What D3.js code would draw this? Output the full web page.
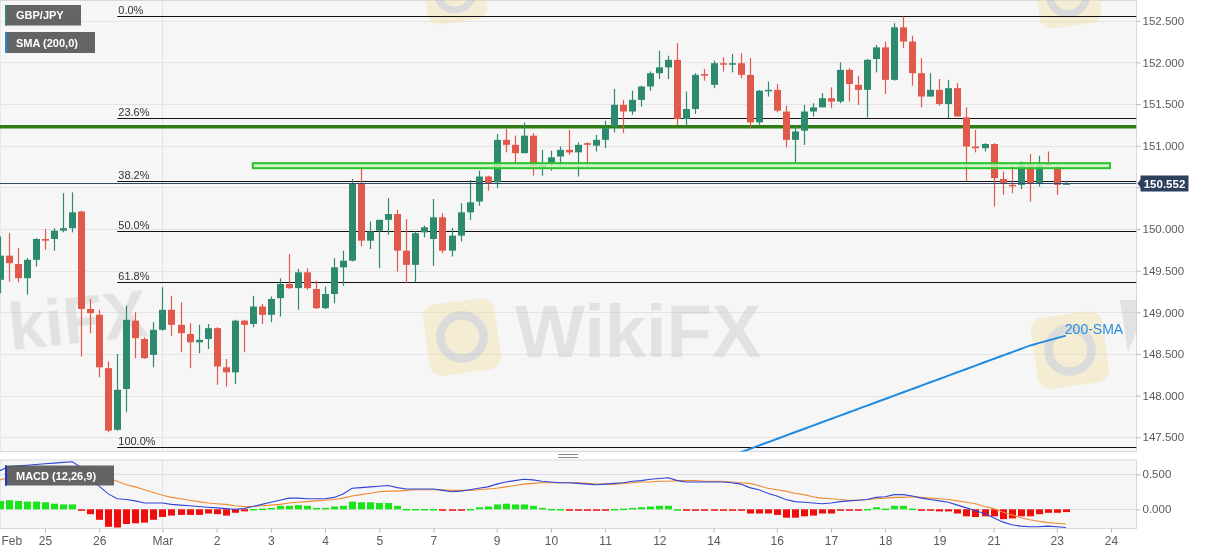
<!DOCTYPE html>
<html><head><meta charset="utf-8">
<script src="https://cdn.jsdelivr.net/npm/d3@7"></script>
<style>
body{margin:0;background:#fff;}
svg{display:block;font-family:"Liberation Sans",Arial,sans-serif;}
</style>
</head><body>
<svg id="c" width="1207" height="555"></svg>
<script>
// ---------- DATA (4H candles, index 0 = leftmost) ----------
const opens = [149.39,149.68,149.58,149.41,149.63,149.88,149.88,149.98,150.01,150.21,149.04,148.97,148.33,147.59,148.08,148.90,148.68,148.49,148.79,149.03,148.85,148.74,148.64,148.68,148.81,148.34,148.28,148.90,148.86,149.07,148.97,149.17,149.34,149.29,149.48,149.28,149.05,149.22,149.54,149.62,150.54,149.86,149.98,150.11,150.18,149.74,149.57,149.96,149.88,150.14,149.74,149.92,150.20,150.33,150.63,150.56,151.07,151.01,150.91,151.12,150.74,150.78,150.87,150.95,150.92,151.03,151.00,151.07,151.23,151.49,151.41,151.55,151.71,151.87,151.94,152.03,151.32,151.44,151.86,151.73,151.99,151.98,151.99,151.85,151.28,151.66,151.67,151.41,151.07,151.18,151.41,151.46,151.57,151.53,151.91,151.73,151.67,152.04,152.18,151.79,152.42,152.25,151.87,151.59,151.67,151.50,151.69,151.34,150.99,150.97,151.02,150.60,150.53,150.53,150.77,150.55,150.79,150.72,150.53];
const highs = [149.91,149.95,149.77,149.65,149.89,150.00,150.01,150.43,150.44,150.22,149.16,149.03,148.41,148.50,149.08,149.00,148.70,148.88,149.30,149.20,149.12,148.87,148.85,148.86,148.82,148.44,148.91,148.91,149.20,149.10,149.19,149.41,149.70,149.52,149.53,149.38,149.31,149.65,149.74,150.60,150.73,150.09,150.11,150.37,150.23,150.12,149.97,150.04,150.36,150.19,150.01,150.31,150.59,150.70,150.64,151.14,151.20,151.12,151.28,151.15,150.95,150.94,150.99,151.19,151.04,151.04,151.13,151.30,151.68,151.55,151.66,151.72,151.89,152.14,152.08,152.23,151.65,151.87,151.92,152.02,152.06,152.10,152.11,152.05,151.67,151.77,151.74,151.48,151.25,151.49,151.51,151.63,151.70,152.00,151.93,151.84,152.04,152.21,152.25,152.47,152.55,152.32,152.05,151.87,151.80,151.79,151.75,151.46,151.19,151.03,151.03,150.69,150.77,150.81,150.90,150.88,150.93,150.77,150.58];
const lows = [149.23,149.37,149.36,149.21,149.55,149.75,149.74,149.96,149.96,148.47,148.75,148.22,147.56,147.58,147.80,148.45,148.44,148.34,148.78,148.72,148.52,148.33,148.51,148.56,148.13,148.11,148.14,148.52,148.82,148.86,148.88,148.95,149.28,149.03,149.27,149.04,149.04,149.11,149.32,149.61,149.79,149.76,149.53,149.93,149.49,149.35,149.36,149.90,149.56,149.71,149.67,149.85,150.11,150.28,150.46,150.49,150.92,150.79,150.91,150.64,150.64,150.70,150.75,150.89,150.63,150.75,150.93,150.97,151.16,151.15,151.37,151.47,151.66,151.80,151.80,151.25,151.24,151.38,151.78,151.69,151.89,151.88,151.81,151.21,151.25,151.59,151.40,150.98,150.78,151.01,151.35,151.46,151.45,151.51,151.53,151.49,151.34,151.88,151.62,151.78,152.17,151.72,151.46,151.59,151.48,151.33,151.35,150.57,150.92,150.93,150.27,150.41,150.43,150.48,150.33,150.51,150.76,150.41,150.53];
const closes = [149.68,149.59,149.41,149.63,149.88,149.86,149.98,150.01,150.20,149.04,148.99,148.34,147.58,148.07,148.91,148.69,148.45,148.79,149.03,148.85,148.75,148.64,148.67,148.81,148.35,148.28,148.90,148.85,149.07,148.97,149.16,149.34,149.29,149.48,149.29,149.05,149.22,149.54,149.62,150.54,149.86,149.97,150.11,150.18,149.74,149.57,149.95,150.02,150.14,149.74,149.92,150.20,150.32,150.63,150.55,151.07,151.01,150.91,151.12,150.75,150.77,150.86,150.95,150.92,151.01,151.01,151.07,151.21,151.49,151.41,151.55,151.71,151.87,151.94,152.03,151.32,151.44,151.85,151.84,151.99,151.98,151.99,151.85,151.28,151.66,151.67,151.42,151.07,151.17,151.41,151.46,151.57,151.53,151.91,151.74,151.67,152.03,152.18,151.79,152.42,152.25,151.87,151.59,151.67,151.50,151.69,151.35,150.99,150.97,151.02,150.61,150.54,150.52,150.79,150.55,150.77,150.76,150.53,150.552];

// 200-SMA (starts at candle index 81)
const smaStart = 81;
const smaValues = [147.28,147.32,147.36,147.40,147.44,147.48,147.52,147.56,147.60,147.64,147.68,147.72,147.76,147.80,147.84,147.88,147.92,147.96,148.00,148.04,148.08,148.12,148.16,148.20,148.24,148.28,148.32,148.36,148.40,148.44,148.48,148.52,148.56,148.60,148.63,148.66,148.69,148.72];

// MACD (12,26,9)
const macdLine = [0.55,0.61,0.62,0.63,0.64,0.65,0.66,0.67,0.68,0.60,0.45,0.33,0.22,0.15,0.14,0.12,0.09,0.09,0.09,0.07,0.06,0.05,0.04,0.03,0.02,0.01,0.00,0.01,0.04,0.07,0.10,0.13,0.16,0.16,0.15,0.15,0.15,0.17,0.22,0.30,0.31,0.32,0.33,0.34,0.31,0.29,0.29,0.29,0.29,0.27,0.25,0.26,0.28,0.30,0.32,0.36,0.39,0.41,0.43,0.42,0.40,0.39,0.38,0.38,0.37,0.36,0.35,0.36,0.37,0.38,0.40,0.41,0.43,0.44,0.45,0.41,0.39,0.39,0.39,0.39,0.39,0.38,0.36,0.31,0.28,0.23,0.19,0.14,0.11,0.10,0.09,0.08,0.09,0.11,0.12,0.13,0.14,0.17,0.18,0.21,0.21,0.19,0.16,0.14,0.12,0.10,0.06,0.02,-0.02,-0.06,-0.12,-0.18,-0.22,-0.24,-0.25,-0.25,-0.24,-0.25,-0.26];
const signalLine = [0.42,0.45,0.48,0.51,0.53,0.55,0.58,0.60,0.61,0.60,0.55,0.49,0.44,0.40,0.35,0.32,0.28,0.24,0.20,0.17,0.15,0.13,0.11,0.09,0.08,0.07,0.05,0.04,0.04,0.05,0.06,0.07,0.09,0.10,0.11,0.12,0.13,0.14,0.16,0.19,0.21,0.23,0.25,0.26,0.26,0.27,0.28,0.28,0.28,0.28,0.27,0.27,0.27,0.28,0.29,0.30,0.32,0.34,0.36,0.37,0.38,0.38,0.38,0.38,0.38,0.37,0.36,0.36,0.36,0.37,0.38,0.39,0.39,0.40,0.40,0.41,0.41,0.41,0.40,0.40,0.40,0.39,0.38,0.37,0.34,0.30,0.28,0.26,0.23,0.21,0.18,0.16,0.15,0.14,0.13,0.13,0.14,0.15,0.16,0.17,0.17,0.18,0.17,0.16,0.15,0.14,0.12,0.10,0.08,0.04,0.01,-0.04,-0.08,-0.12,-0.15,-0.17,-0.19,-0.20,-0.21];
const histValues = [0.12,0.13,0.12,0.11,0.11,0.10,0.08,0.07,0.07,-0.005,-0.07,-0.15,-0.25,-0.26,-0.21,-0.20,-0.19,-0.15,-0.11,-0.09,-0.08,-0.08,-0.08,-0.06,-0.07,-0.09,-0.05,-0.03,0.005,0.01,0.02,0.05,0.05,0.06,0.05,0.02,0.02,0.04,0.05,0.11,0.10,0.10,0.09,0.09,0.05,0.005,0.005,0.005,0.005,-0.005,-0.015,-0.005,0.005,0.03,0.04,0.07,0.08,0.07,0.07,0.05,0.02,0.005,0.003,-0.005,-0.005,-0.008,-0.008,-0.005,0.005,0.01,0.02,0.03,0.04,0.05,0.05,0.0,-0.02,-0.015,-0.01,-0.008,-0.008,-0.008,-0.015,-0.06,-0.06,-0.06,-0.08,-0.12,-0.12,-0.10,-0.09,-0.06,-0.06,-0.01,-0.01,-0.005,0.005,0.03,0.01,0.05,0.05,0.01,-0.005,-0.02,-0.03,-0.03,-0.06,-0.10,-0.11,-0.10,-0.10,-0.14,-0.13,-0.10,-0.10,-0.07,-0.05,-0.05,-0.04];

// Fibonacci retracement
const fibLevels = [0, 23.6, 38.2, 50.0, 61.8, 100.0];
const fibHigh = 152.56, fibLow = 147.38, fibStartIdx = 13;
// Support / resistance
const resistanceLine = 151.227;
const supportZone = [150.73, 150.79];
const supportZoneIdx = [28, 123];
const lastPrice = 150.552;

// Axes
const priceTicks = [147.5,148,148.5,149,149.5,150,150.5,151,151.5,152,152.5];
const macdTicks = [0, 0.5];
const dateLabels = ["Feb","25","26","Mar","2","3","4","5","7","9","10","11","12","14","16","17","18","19","21","23","24"];
const dateIdx = [-1,5,11,18,24,30,36,42,48,55,61,67,73,79,86,92,98,104,110,117,123];
const monthIdx = [18];

// ---------- LAYOUT ----------
const svg = d3.select("#c");
const plotL = 0, plotR = 1136.5;
const pTop = 0.5, pBot = 451.5;
const mTop = 460, mBot = 528.5;

const x = d3.scaleLinear().domain([5,123]).range([45,1111]);
const y = d3.scaleLinear().domain([147.5,152.5]).range([437.3,20.7]);
const ym = d3.scaleLinear().domain([0,0.5]).range([509.3,474.3]);

const GREEN = "#2e8a6f", RED = "#e0594a";

const defs = svg.append("defs");
defs.append("clipPath").attr("id","cp").append("rect").attr("x",plotL).attr("y",pTop).attr("width",plotR-plotL).attr("height",pBot-pTop);
defs.append("clipPath").attr("id","cm").append("rect").attr("x",plotL).attr("y",mTop).attr("width",plotR-plotL).attr("height",mBot-mTop);

// panel backgrounds
svg.append("rect").attr("x",plotL).attr("y",pTop).attr("width",plotR-plotL).attr("height",pBot-pTop).attr("fill","#f6f6f6").attr("stroke","#d6d9de");
svg.append("rect").attr("x",plotL).attr("y",mTop).attr("width",plotR-plotL).attr("height",mBot-mTop).attr("fill","#f6f6f6").attr("stroke","#d6d9de");

const gp = svg.append("g").attr("clip-path","url(#cp)");
const gm = svg.append("g").attr("clip-path","url(#cm)");

// gridlines
gp.selectAll(".hg").data(priceTicks).join("line").attr("x1",plotL).attr("x2",plotR)
  .attr("y1",d=>Math.round(y(d))+0.5).attr("y2",d=>Math.round(y(d))+0.5).attr("stroke","#e4e4e4");
gm.selectAll(".mg").data(macdTicks).join("line").attr("x1",plotL).attr("x2",plotR)
  .attr("y1",d=>Math.round(ym(d))+0.5).attr("y2",d=>Math.round(ym(d))+0.5).attr("stroke","#e0e0e0");
[gp,gm].forEach(g=>g.selectAll(".vg").data(monthIdx).join("line")
  .attr("x1",d=>Math.round(x(d))+0.5).attr("x2",d=>Math.round(x(d))+0.5).attr("y1",0).attr("y2",555).attr("stroke","#e2e2e2"));

// watermarks
const wm = gp.append("g").attr("opacity",0.45);
const logo = (cx,cy,s)=>{
  wm.append("rect").attr("x",cx-s/2).attr("y",cy-s/2).attr("width",s).attr("height",s).attr("rx",s*0.18)
    .attr("fill","#f3e2a8").attr("transform",`rotate(-8 ${cx} ${cy})`);
  wm.append("circle").attr("cx",cx).attr("cy",cy).attr("r",s*0.3).attr("fill","none").attr("stroke","#b9b9b9").attr("stroke-width",s*0.12);
};
logo(462,337,72); logo(1070,350,72); logo(455,-8,60); logo(1068,-5,62);
wm.append("text").attr("x",515).attr("y",357).attr("font-size",74).attr("font-weight","bold").attr("fill","#c9c9c9").text("WikiFX");
wm.append("text").attr("x",9).attr("y",345).attr("font-size",66).attr("font-weight","bold").attr("fill","#c9c9c9")
  .attr("transform","rotate(-6 60 330)").text("kiFX");
wm.append("path").attr("d","M1120,300 L1128,352 L1137,330 V300 Z").attr("fill","#c9c9c9");

// fib lines
const fibPrice = l => fibHigh - l/100*(fibHigh-fibLow);
gp.selectAll(".fib").data(fibLevels).join("line")
  .attr("x1",x(fibStartIdx)).attr("x2",plotR)
  .attr("y1",d=>Math.round(y(fibPrice(d)))+0.5).attr("y2",d=>Math.round(y(fibPrice(d)))+0.5)
  .attr("stroke","#111").attr("stroke-width",1);
gp.selectAll(".fibt").data(fibLevels).join("text")
  .attr("x",x(fibStartIdx)+1).attr("y",d=>Math.round(y(fibPrice(d)))-2)
  .attr("font-size",11).attr("fill","#333").text(d=>d.toFixed(1)+"%");

// resistance line
gp.append("line").attr("x1",plotL).attr("x2",plotR).attr("y1",y(resistanceLine)).attr("y2",y(resistanceLine))
  .attr("stroke","#2f7d14").attr("stroke-width",3.5);

// 200 SMA
const smaPts = smaValues.map((v,k)=>[smaStart+k, v]);
gp.append("path").datum(smaPts).attr("fill","none").attr("stroke","#1f8ae0").attr("stroke-width",2)
  .attr("d",d3.line().x(d=>x(d[0])).y(d=>y(d[1])).curve(d3.curveMonotoneX));

// candles
const cand = d3.range(opens.length).map(i=>({i,o:opens[i],h:highs[i],l:lows[i],c:closes[i]}));
const bw = 7;
gp.selectAll(".wick").data(cand).join("line")
  .attr("x1",d=>Math.round(x(d.i))+0.5).attr("x2",d=>Math.round(x(d.i))+0.5)
  .attr("y1",d=>y(d.h)).attr("y2",d=>y(d.l))
  .attr("stroke",d=>d.c>=d.o?GREEN:RED).attr("stroke-width",1.2);
gp.selectAll(".body").data(cand).join("rect")
  .attr("x",d=>Math.round(x(d.i))+0.5-bw/2).attr("width",bw)
  .attr("y",d=>y(Math.max(d.o,d.c))).attr("height",d=>Math.max(1.5,Math.abs(y(d.o)-y(d.c))))
  .attr("fill",d=>d.c>=d.o?GREEN:RED);

// support zone (double green line)
gp.append("rect").attr("x",x(supportZoneIdx[0])).attr("width",x(supportZoneIdx[1])-x(supportZoneIdx[0])-1)
  .attr("y",y(supportZone[1])).attr("height",y(supportZone[0])-y(supportZone[1]))
  .attr("fill","#c6f2c0").attr("fill-opacity",0.85).attr("stroke","#29c42a").attr("stroke-width",2);

// last price line
gp.append("line").attr("x1",plotL).attr("x2",plotR).attr("y1",Math.round(y(lastPrice))+0.5).attr("y2",Math.round(y(lastPrice))+0.5)
  .attr("stroke","#34486b").attr("stroke-width",1);

// 200-SMA label
const lastSma = smaPts[smaPts.length-1];
svg.append("text").attr("x",x(lastSma[0])-1).attr("y",y(lastSma[1])-2).attr("font-size",14).attr("fill","#2a8ede").text("200-SMA");

// MACD histogram
const hb = 7;
gm.selectAll(".hist").data(histValues.map((v,i)=>({i,v}))).join("rect")
  .attr("x",d=>Math.round(x(d.i))+0.5-hb/2).attr("width",hb)
  .attr("y",d=>d.v>=0?ym(d.v):ym(0)).attr("height",d=>Math.max(1.5,Math.abs(ym(d.v)-ym(0))))
  .attr("fill",d=>d.v>=0?"#19e619":"#f20d0d");
gm.append("path").datum(signalLine).attr("fill","none").attr("stroke","#f08a30").attr("stroke-width",1.1)
  .attr("d",d3.line().x((d,i)=>x(i)).y(d=>ym(d)));
gm.append("path").datum(macdLine).attr("fill","none").attr("stroke","#2f45d6").attr("stroke-width",1.1)
  .attr("d",d3.line().x((d,i)=>x(i)).y(d=>ym(d)));

// Right axes (price labels hidden where the last-price tag sits)
const ly = Math.round(y(lastPrice))+0.5;
const ya = svg.append("g").attr("transform",`translate(${plotR},0)`)
  .call(d3.axisRight(y).tickValues(priceTicks).tickFormat(d3.format(".3f")).tickSize(4).tickPadding(2));
ya.selectAll(".tick").filter(d=>Math.abs(y(d)-ly)<14).select("text").remove();
const ma = svg.append("g").attr("transform",`translate(${plotR},0)`)
  .call(d3.axisRight(ym).tickValues(macdTicks).tickFormat(d3.format(".3f")).tickSize(4).tickPadding(2));
const xa = svg.append("g").attr("transform",`translate(0,${mBot})`)
  .call(d3.axisBottom(x).tickValues(dateIdx).tickFormat((d,i)=>dateLabels[i]).tickSize(4).tickPadding(4));
[ya,ma,xa].forEach(a=>{
  a.select(".domain").remove();
  a.selectAll("line").attr("stroke","#b5b5b5");
  a.selectAll("text").attr("fill","#5a5a5a").attr("font-size",11.5).attr("font-family","Liberation Sans, Arial, sans-serif");
});
xa.selectAll("text").attr("font-size",12);
xa.selectAll(".tick").each(function(d){
  const t = d3.select(this).select("text");
  const w = t.node().getComputedTextLength();
  if (x(d) - w/2 < 0) { t.attr("text-anchor","start").attr("x", -x(d)+1); }
});

// last price tag
svg.append("path").attr("d",`M${plotR+1},${ly} L${plotR+4},${ly-4} V${ly-8} H${plotR+52} V${ly+8} H${plotR+4} V${ly+4} Z`).attr("fill","#2d3f5e");
svg.append("text").attr("x",plotR+28).attr("y",ly+4).attr("text-anchor","middle").attr("font-size",11.5).attr("font-weight","bold").attr("fill","#fff").text(lastPrice.toFixed(3));

// panel splitter handle
const hx = (plotL+plotR)/2;
svg.append("line").attr("x1",hx-10).attr("x2",hx+10).attr("y1",454.5).attr("y2",454.5).attr("stroke","#8a8a8a");
svg.append("line").attr("x1",hx-10).attr("x2",hx+10).attr("y1",457.5).attr("y2",457.5).attr("stroke","#8a8a8a");

// legend boxes
function legend(x0,y0,w,h,txt,col){
  svg.append("rect").attr("x",x0).attr("y",y0).attr("width",w).attr("height",h).attr("fill","#5c5c5c").attr("fill-opacity",0.95);
  svg.append("rect").attr("x",x0).attr("y",y0).attr("width",2).attr("height",h).attr("fill",col);
  svg.append("text").attr("x",x0+11).attr("y",y0+h/2+4).attr("font-size",11).attr("font-weight","bold").attr("fill","#fff").text(txt);
}
legend(5,5,76,20.5,"GBP/JPY","#2e8a6f");
legend(5,32,90,21,"SMA (200,0)","#2b84d6");
legend(5,465.5,109,20,"MACD (12,26,9)","#2233cc");
</script>
</body></html>
